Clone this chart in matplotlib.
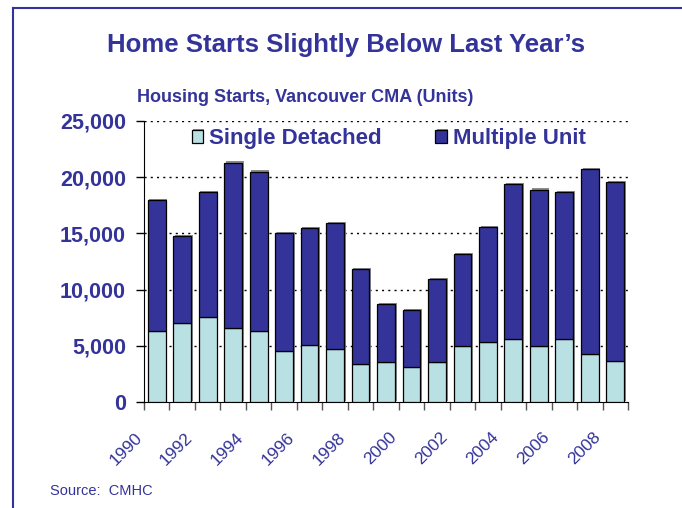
import numpy as np
import matplotlib.pyplot as plt
import matplotlib.patheffects as pe
from matplotlib.lines import Line2D
from matplotlib.transforms import ScaledTranslation

plt.rcParams['font.family'] = ['Liberation Sans', 'DejaVu Sans']

# dati
anni = list(range(1990, 2009))
totale = [18000, 14800, 18700, 21300, 20500, 15000, 15500, 15900, 11800, 8700,
          8200, 10900, 13150, 15600, 19400, 18900, 18700, 20700, 19600]
singole = [6300, 7000, 7550, 6550, 6300, 4500, 5050, 4700, 3350, 3550,
           3150, 3550, 5000, 5350, 5600, 4950, 5600, 4250, 3650]
multiple = [t - s for t, s in zip(totale, singole)]

blu = '#333399'
azzurro = '#B9E0E3'

fig = plt.figure(figsize=(6.82, 5.08), dpi=100)
ax = fig.add_axes([144/682, 1 - 402/508, (628-144)/682, (402-121)/508])

x = np.arange(len(anni))
ombra = [pe.SimplePatchShadow(offset=(1.2, 0.8), shadow_rgbFace='#7f7f7f', alpha=0.9), pe.Normal()]
b1 = ax.bar(x, singole, 0.7, color=azzurro, edgecolor='black', linewidth=0.9,
            label='Single Detached', zorder=3)
b2 = ax.bar(x, multiple, 0.7, bottom=singole, color=blu, edgecolor='black', linewidth=0.9,
            label='Multiple Unit', zorder=3)
for r in list(b1) + list(b2):
    r.set_path_effects(ombra)

ax.set_xlim(-0.5, len(anni) - 0.5)
ax.set_ylim(0, 25000)
ax.set_yticks(range(0, 25001, 5000))
ax.set_yticklabels([f'{v:,}' for v in range(0, 25001, 5000)], fontsize=15.5,
                   fontweight='bold', color=blu)
ax.tick_params(axis='y', length=6, width=1, pad=7)

# tacche ai bordi delle categorie, etichette ogni due anni
ax.set_xticks(np.arange(-0.5, len(anni), 1.0))
ax.set_xticklabels([])
ax.tick_params(axis='x', which='major', length=6, width=1, color='#555555')
pari = [i for i, a in enumerate(anni) if a % 2 == 0]
ax.set_xticks(pari, [str(anni[i]) for i in pari], minor=True)
ax.tick_params(axis='x', which='minor', length=0, pad=20)
off = ScaledTranslation(-12/100, 0, fig.dpi_scale_trans)
for lab in ax.get_xticklabels(minor=True):
    lab.set_rotation(45)
    lab.set_ha('right')
    lab.set_va('top')
    lab.set_fontsize(12.5)
    lab.set_color(blu)
    lab.set_transform(lab.get_transform() + off)

for v in range(5000, 25001, 5000):
    ax.axhline(v, color='black', linestyle=(0, (1.5, 3)), linewidth=1, zorder=1)

ax.spines['top'].set_visible(False)
ax.spines['right'].set_visible(False)

ax.legend(loc='center', bbox_to_anchor=(0.506, 0.936), ncol=2, frameon=False,
          prop={'size': 16, 'weight': 'bold'}, labelcolor=blu,
          handlelength=0.5, handleheight=0.55, handletextpad=0.3, columnspacing=2.4)

fig.text(346/682, 1 - 45/508, 'Home Starts Slightly Below Last Year\u2019s', ha='center', va='center',
         fontsize=18.5, fontweight='bold', color=blu)
fig.text(137/682, 1 - 97/508, 'Housing Starts, Vancouver CMA (Units)', ha='left', va='center',
         fontsize=13, fontweight='bold', color=blu)
fig.text(50/682, 1 - 491/508, 'Source:  CMHC', ha='left', va='center', fontsize=10.5, color=blu)

# cornice
fig.add_artist(Line2D([12.5/682, 1], [1 - 7.5/508, 1 - 7.5/508], color=blu, linewidth=1.5))
fig.add_artist(Line2D([12.5/682, 12.5/682], [0, 1 - 7.5/508], color=blu, linewidth=1.5))

fig.savefig('out.png', dpi=100)
